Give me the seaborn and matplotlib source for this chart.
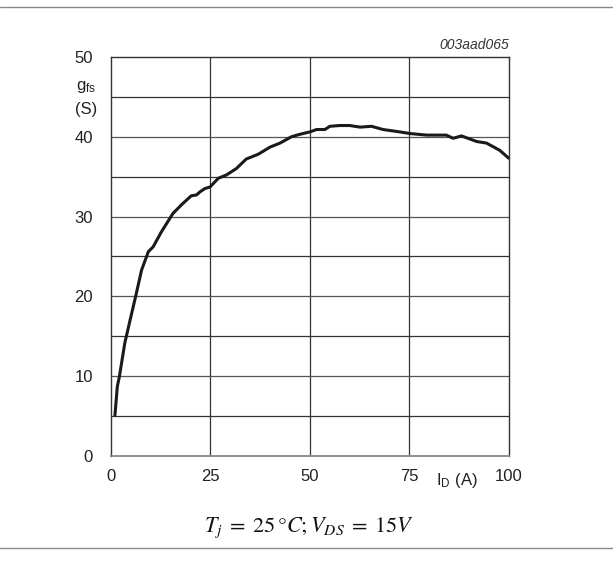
import numpy as np
import pandas as pd
import seaborn as sns
import matplotlib.pyplot as plt
from matplotlib.lines import Line2D

# drain current I_D (A) and forward transconductance g_fs (S)
i_d = [1.0, 1.6, 2.1, 3.5, 4.8, 6.3, 7.7, 9.4, 10.6, 12.7, 15.6, 18.0, 20.2, 21.5,
       22.4, 23.6, 24.9, 27.0, 29.0, 31.5, 34.0, 37.0, 40.0, 42.5, 45.4, 47.5,
       50.0, 51.7, 53.8, 55.0, 57.5, 60.0, 62.6, 65.5, 68.4, 72.6, 75.1, 79.3,
       84.3, 86.0, 88.1, 91.9, 94.4, 97.7, 100.0]
g_fs = [5.1, 8.7, 9.9, 14.2, 17.0, 20.2, 23.3, 25.6, 26.2, 28.1, 30.4, 31.6, 32.6, 32.7,
        33.1, 33.5, 33.7, 34.8, 35.2, 36.0, 37.2, 37.8, 38.7, 39.2, 40.0, 40.3,
        40.6, 40.9, 40.9, 41.3, 41.4, 41.4, 41.2, 41.3, 40.9, 40.6, 40.4, 40.2,
        40.2, 39.8, 40.1, 39.4, 39.2, 38.3, 37.3]

x_ticks = [0, 25, 50, 75, 100]
y_ticks = [0, 10, 20, 30, 40, 50]

sns.set_theme(style="white")
plt.rcParams['font.family'] = ['Liberation Sans', 'DejaVu Sans']
plt.rcParams['mathtext.fontset'] = 'stix'

df = pd.DataFrame({"I_D": i_d, "g_fs": g_fs})

fig = plt.figure(figsize=(6.13, 5.63), dpi=100)
ax = fig.add_axes([0.181, 0.190, 0.649, 0.709])

# grid
for gx in [25, 50, 75]:
    ax.axvline(gx, color="#333333", lw=0.9, zorder=1)
for gy in range(5, 50, 5):
    ax.axhline(gy, color="#333333" if gy % 10 else "#555555", lw=0.9, zorder=1)

sns.lineplot(data=df, x="I_D", y="g_fs", color="#1a1a1a", lw=2.2, ax=ax, zorder=3)

ax.set_xlim(0, 100)
ax.set_ylim(0, 50)
ax.set_xticks(x_ticks)
ax.set_yticks(y_ticks)
ax.set_xticklabels(["0", "25", "50", "75", "100"])
ax.tick_params(axis="both", length=0, labelsize=12, colors="#222222")
ax.tick_params(axis="x", pad=9)
ax.tick_params(axis="y", pad=13)
ax.set_xlabel("")
ax.set_ylabel("")
for name, sp in ax.spines.items():
    sp.set_visible(True)
    sp.set_color("#333333")
    sp.set_linewidth(1.0)
ax.spines["bottom"].set_color("#888888")
ax.spines["bottom"].set_linewidth(1.3)

# axis labels placed like the datasheet
ax.text(-0.062, 0.925, "g$_{\\mathregular{fs}}$", transform=ax.transAxes,
        ha="center", va="center", fontsize=12, color="#222222")
ax.text(-0.062, 0.868, "(S)", transform=ax.transAxes,
        ha="center", va="center", fontsize=12, color="#222222")
ax.text(0.869, -0.062, "I$_{\\mathregular{D}}$ (A)", transform=ax.transAxes,
        ha="center", va="center", fontsize=12, color="#222222")
ax.text(1.0, 1.012, "003aad065", transform=ax.transAxes, ha="right", va="bottom",
        fontsize=10, style="italic", color="#333333")

fig.text(0.505, 0.062, r"$T_j\;=\;25\,°C;V_{DS}\;=\;15V$", ha="center", va="center",
         fontsize=16, color="#111111")

# separator rules at top and bottom
fig.add_artist(Line2D([0, 1], [0.988, 0.988], color="#888888", lw=1.0, transform=fig.transFigure))
fig.add_artist(Line2D([0, 1], [0.027, 0.027], color="#888888", lw=1.0, transform=fig.transFigure))

fig.savefig("out.png", dpi=100, facecolor="white")
